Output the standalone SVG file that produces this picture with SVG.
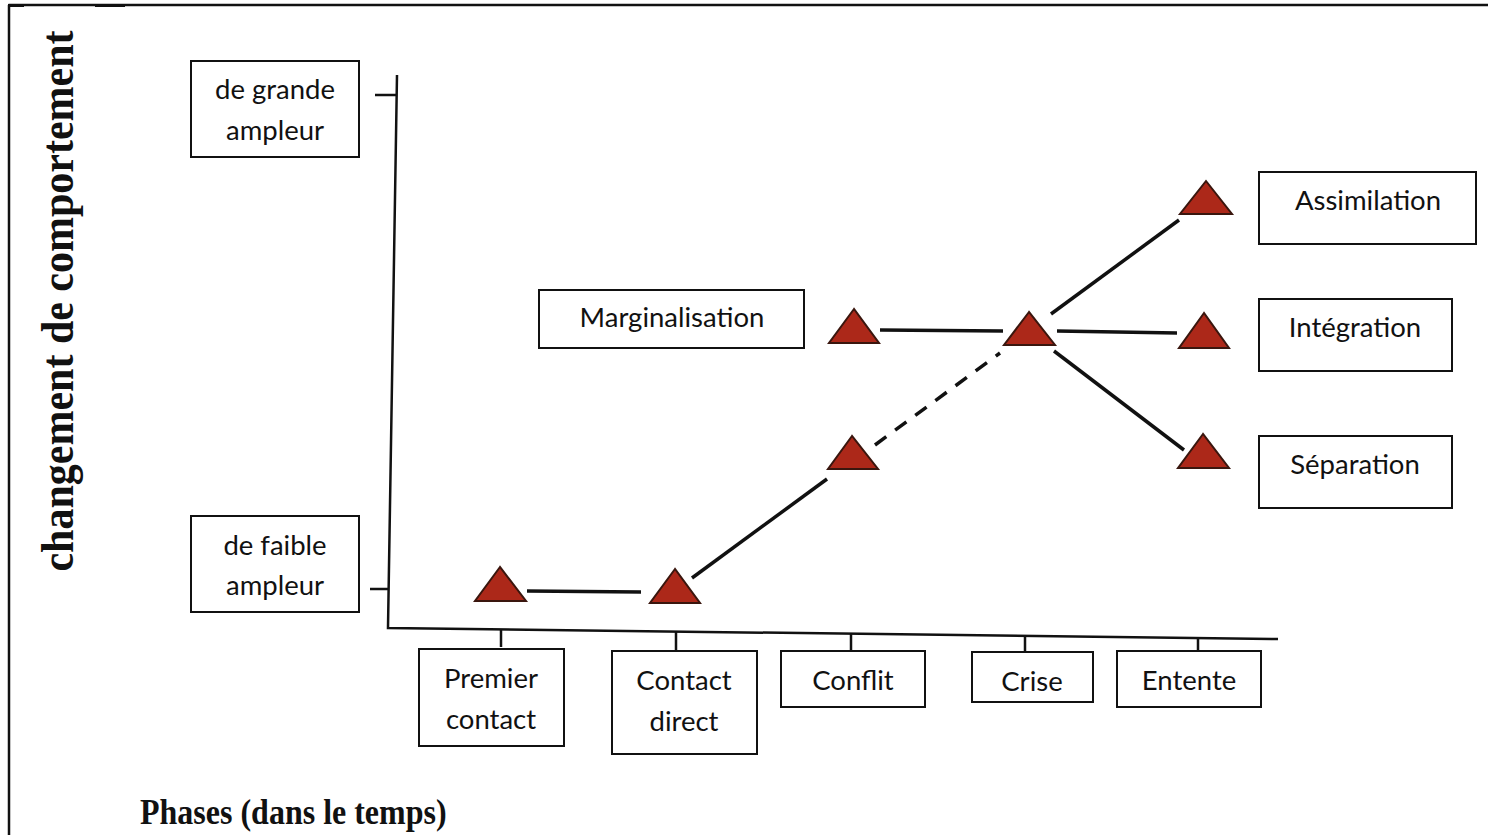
<svg xmlns="http://www.w3.org/2000/svg" width="1490" height="835" viewBox="0 0 1490 835">
<style>
.box{fill:#fff;stroke:#111;stroke-width:2}
.lbl{font-family:Lato,"Open Sans",sans-serif;font-size:27.5px;fill:#111;text-anchor:middle}
.ax{fill:none;stroke:#111;stroke-width:2.5;stroke-linecap:butt}
.tri{fill:#ac2819;stroke:#3a160e;stroke-width:2;stroke-linejoin:miter}
.ln{fill:none;stroke:#111;stroke-width:3.5}
.dash{stroke-dasharray:14 11}
.ttl{font-family:"Liberation Serif","Times New Roman",serif;font-weight:bold;fill:#111}
</style>
<rect x="0" y="0" width="1490" height="835" fill="#fff"/>
<g id="frame">
<path d="M8.5 5 H1488 M9 5 V835" class="ax" stroke-width="2"/>
<path d="M8 5.5 H24 M95 5.5 H125" stroke="#111" stroke-width="3"/>
</g>
<g id="axes">
<path class="ax" d="M397 75 L388 628 L1278 639"/>
<path class="ax" d="M375 95 H396 M370 589 H389"/>
<path class="ax" d="M501 630 V647 M676 632 V650 M851 634 V650 M1025 636 V652 M1198 638 V651"/>
</g>
<g id="y-label">
<text class="ttl" font-size="42" transform="translate(73 301) rotate(-90) scale(1 1.12)" text-anchor="middle">changement de comportement</text>
</g>
<g id="x-label">
<text class="ttl" font-size="32" transform="translate(140 824) scale(1 1.12)">Phases (dans le temps)</text>
</g>
<g id="connectors">
<path class="ln" d="M527 591 L641 592"/>
<path class="ln" d="M692 578 L827 479"/>
<path class="ln dash" d="M875 445 L1000 353"/>
<path class="ln" d="M880 330 L1003 331"/>
<path class="ln" d="M1051 314 L1179 220"/>
<path class="ln" d="M1057 331 L1177 333"/>
<path class="ln" d="M1054 351 L1184 450"/>
</g>
<g id="node-grande"><rect class="box" x="191" y="61" width="168" height="96"/><text class="lbl" x="275" y="99">de grande</text><text class="lbl" x="275" y="140">ampleur</text></g>
<g id="node-faible"><rect class="box" x="191" y="516" width="168" height="96"/><text class="lbl" x="275" y="555">de faible</text><text class="lbl" x="275" y="595">ampleur</text></g>
<g id="node-premier"><rect class="box" x="419" y="649" width="145" height="97"/><text class="lbl" x="491" y="688">Premier</text><text class="lbl" x="491" y="729">contact</text></g>
<g id="node-direct"><rect class="box" x="612" y="651" width="145" height="103"/><text class="lbl" x="684" y="690">Contact</text><text class="lbl" x="684" y="731">direct</text></g>
<g id="node-conflit"><rect class="box" x="781" y="651" width="144" height="56"/><text class="lbl" x="853" y="690">Conflit</text></g>
<g id="node-crise"><rect class="box" x="972" y="652" width="121" height="50"/><text class="lbl" x="1032" y="691">Crise</text></g>
<g id="node-entente"><rect class="box" x="1117" y="651" width="144" height="56"/><text class="lbl" x="1189" y="690">Entente</text></g>
<g id="node-marginalisation"><rect class="box" x="539" y="290" width="265" height="58"/><text class="lbl" x="672" y="327">Marginalisation</text></g>
<g id="node-assimilation"><rect class="box" x="1259" y="172" width="217" height="72"/><text class="lbl" x="1368" y="210">Assimilation</text></g>
<g id="node-integration"><rect class="box" x="1259" y="299" width="193" height="72"/><text class="lbl" x="1355" y="337">Intégration</text></g>
<g id="node-separation"><rect class="box" x="1259" y="436" width="193" height="72"/><text class="lbl" x="1355" y="474">Séparation</text></g>
<g id="markers">
<polygon class="tri" points="500,567 475,601 526,601"/>
<polygon class="tri" points="675,569 650,603 700,603"/>
<polygon class="tri" points="852,436 828,469 878,469"/>
<polygon class="tri" points="854,309 829,343 879,343"/>
<polygon class="tri" points="1029,312 1004,345 1055,345"/>
<polygon class="tri" points="1206,181 1180,214 1232,214"/>
<polygon class="tri" points="1204,313 1179,348 1229,348"/>
<polygon class="tri" points="1203,434 1178,468 1229,468"/>
</g>
</svg>
